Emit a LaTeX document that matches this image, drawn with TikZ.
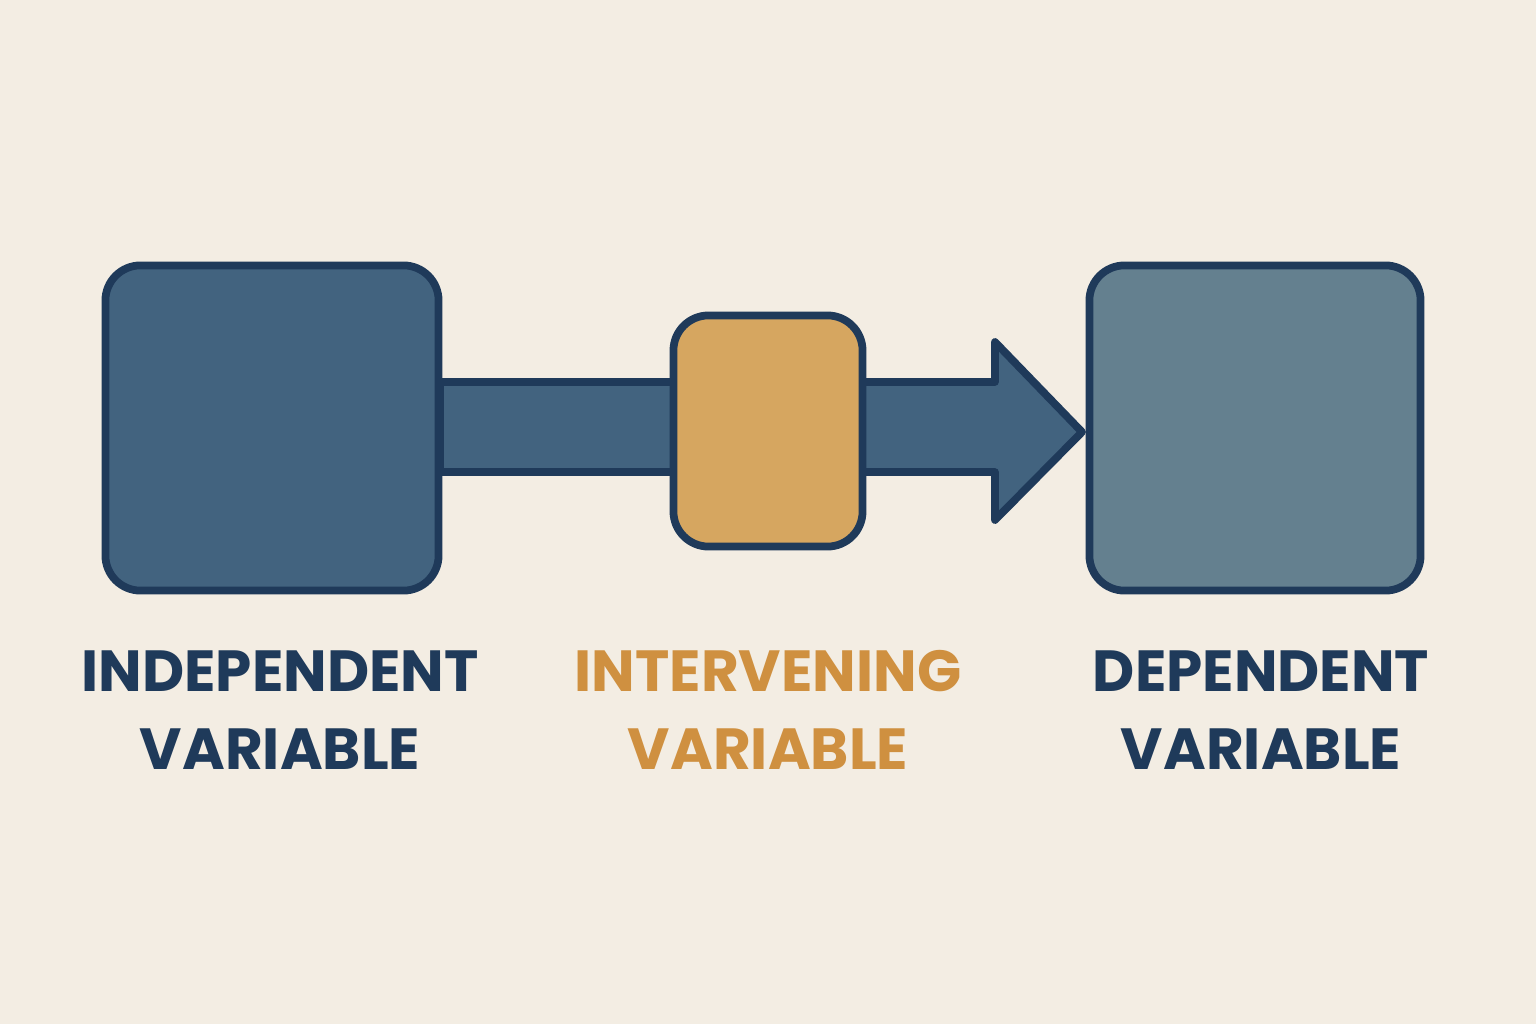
\documentclass[tikz,border=0pt]{standalone}
\usepackage{fontspec}
\setmainfont{Poppins}
\usetikzlibrary{calc}
\definecolor{bg}{HTML}{F3EDE3}
\definecolor{navy}{HTML}{1F3A5A}
\definecolor{blueA}{HTML}{42637F}
\definecolor{blueB}{HTML}{64808F}
\definecolor{gold}{HTML}{D6A660}
\definecolor{goldtxt}{HTML}{CF9040}
\begin{document}
\begin{tikzpicture}[x=0.01cm,y=-0.01cm,
  box/.style={draw=navy,line width=2.2pt,rounded corners=10pt,inner sep=0pt},
  lab/.style={font=\fontsize{16.5}{22}\selectfont\bfseries,align=center}]
\fill[bg] (0,0) rectangle (1536,1024);
\useasboundingbox (0,0) rectangle (1536,1024);
% arrow
\coordinate (a1) at (440,382);
\coordinate (tip) at (1082,432);
\filldraw[fill=blueA,draw=navy,line width=2.2pt,line join=round]
  (a1) -- (995,382) -- (995,342) -- (tip) -- (995,520) -- (995,472) -- (440,472) -- cycle;
\node[box,fill=blueA,minimum width=3.33cm,minimum height=3.25cm] (L) at (272,428) {};
\node[box,fill=gold,minimum width=1.89cm,minimum height=2.31cm] (M) at (768,431) {};
\node[box,fill=blueB,minimum width=3.31cm,minimum height=3.25cm] (R) at (1255,428) {};
\node[lab,text=navy] (tL) at (280,710) {INDEPENDENT\\VARIABLE};
\node[lab,text=goldtxt] (tM) at (768,710) {INTERVENING\\VARIABLE};
\node[lab,text=navy] (tR) at (1261,710) {DEPENDENT\\VARIABLE};
\end{tikzpicture}
\end{document}
